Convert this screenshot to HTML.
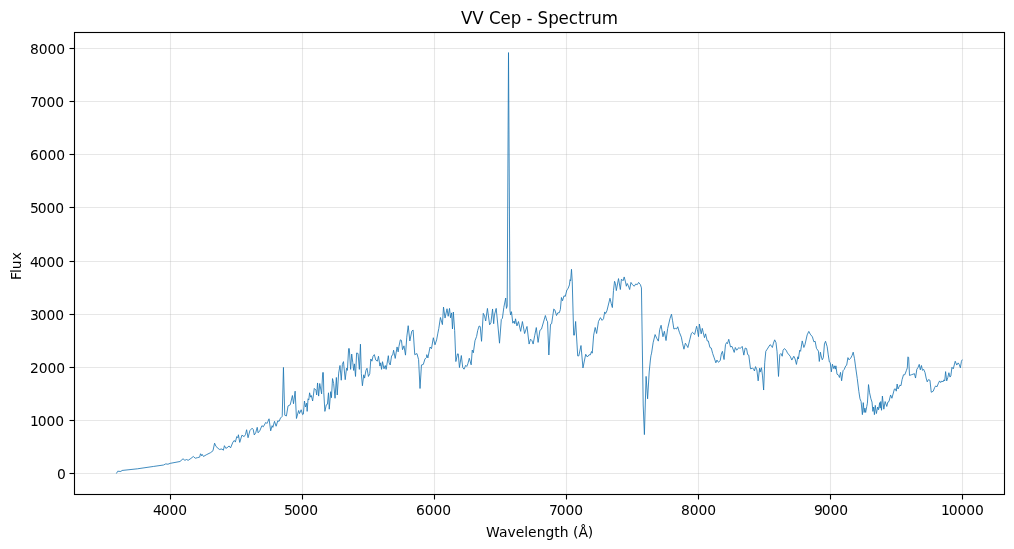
<!DOCTYPE html>
<html lang="en">
<head>
<meta charset="utf-8">
<title>VV Cep - Spectrum</title>
<style>
html,body{margin:0;padding:0;background:#fff;}
body{width:1014px;height:549px;overflow:hidden;}
svg{display:block;}
text{font-family:'DejaVu Sans','Liberation Sans',sans-serif;fill:#000;}
.tick{font-size:13.89px;}
.lab{font-size:13.89px;}
.title{font-size:16.67px;}
</style>
</head>
<body>
<svg width="1014" height="549" viewBox="0 0 1014 549">
<rect x="0" y="0" width="1014" height="549" fill="#ffffff"/>
<g id="grid" stroke="#b0b0b0" stroke-opacity="0.3" stroke-width="1.11" fill="none">
<line x1="170.50" y1="32.50" x2="170.50" y2="494.50"/>
<line x1="302.50" y1="32.50" x2="302.50" y2="494.50"/>
<line x1="434.50" y1="32.50" x2="434.50" y2="494.50"/>
<line x1="566.50" y1="32.50" x2="566.50" y2="494.50"/>
<line x1="698.50" y1="32.50" x2="698.50" y2="494.50"/>
<line x1="830.50" y1="32.50" x2="830.50" y2="494.50"/>
<line x1="962.50" y1="32.50" x2="962.50" y2="494.50"/>
<line x1="74.50" y1="473.50" x2="1004.50" y2="473.50"/>
<line x1="74.50" y1="420.50" x2="1004.50" y2="420.50"/>
<line x1="74.50" y1="367.50" x2="1004.50" y2="367.50"/>
<line x1="74.50" y1="314.50" x2="1004.50" y2="314.50"/>
<line x1="74.50" y1="261.50" x2="1004.50" y2="261.50"/>
<line x1="74.50" y1="207.50" x2="1004.50" y2="207.50"/>
<line x1="74.50" y1="154.50" x2="1004.50" y2="154.50"/>
<line x1="74.50" y1="101.50" x2="1004.50" y2="101.50"/>
<line x1="74.50" y1="48.50" x2="1004.50" y2="48.50"/>
</g>
<g id="ticks" stroke="#000" stroke-width="1.11" fill="none">
<line x1="170.50" y1="494.50" x2="170.50" y2="499.50"/>
<line x1="302.50" y1="494.50" x2="302.50" y2="499.50"/>
<line x1="434.50" y1="494.50" x2="434.50" y2="499.50"/>
<line x1="566.50" y1="494.50" x2="566.50" y2="499.50"/>
<line x1="698.50" y1="494.50" x2="698.50" y2="499.50"/>
<line x1="830.50" y1="494.50" x2="830.50" y2="499.50"/>
<line x1="962.50" y1="494.50" x2="962.50" y2="499.50"/>
<line x1="69.50" y1="473.50" x2="74.50" y2="473.50"/>
<line x1="69.50" y1="420.50" x2="74.50" y2="420.50"/>
<line x1="69.50" y1="367.50" x2="74.50" y2="367.50"/>
<line x1="69.50" y1="314.50" x2="74.50" y2="314.50"/>
<line x1="69.50" y1="261.50" x2="74.50" y2="261.50"/>
<line x1="69.50" y1="207.50" x2="74.50" y2="207.50"/>
<line x1="69.50" y1="154.50" x2="74.50" y2="154.50"/>
<line x1="69.50" y1="101.50" x2="74.50" y2="101.50"/>
<line x1="69.50" y1="48.50" x2="74.50" y2="48.50"/>
</g>
<polyline id="curve" points="116.40,473.50 117.43,471.67 117.65,471.23 120.93,471.45 122.03,470.46 137.33,468.82 153.73,466.42 163.57,465.00 165.76,463.90 167.94,464.23 170.13,463.36 179.97,461.50 183.03,458.77 184.89,460.30 186.53,459.53 188.17,460.30 190.90,458.44 193.31,456.47 195.27,458.22 197.46,457.67 199.65,457.13 200.52,453.74 201.61,455.70 202.16,454.39 203.47,456.47 206.21,454.83 210.58,452.64 212.98,450.78 214.59,443.18 216.01,446.46 219.29,449.42 222.03,448.98 223.34,450.29 224.43,445.70 225.85,448.43 228.04,447.01 229.13,445.92 230.55,447.88 232.96,442.09 234.27,440.45 235.36,442.09 236.78,436.62 237.88,437.72 238.42,434.77 239.74,442.42 241.92,435.20 244.11,436.62 245.53,434.44 246.62,429.74 248.05,437.72 249.90,430.61 252.09,428.21 253.18,429.30 254.28,434.98 255.70,432.80 257.23,427.33 258.10,432.80 259.74,430.83 261.93,425.69 263.35,426.78 265.76,422.41 266.85,423.50 267.94,421.32 269.04,418.80 270.68,430.83 272.10,425.69 272.86,427.33 274.50,421.32 276.14,426.24 277.78,420.77 279.09,421.32 280.51,418.04 282.15,416.40 282.24,415.76 283.45,367.43 284.76,415.21 286.40,415.97 288.04,405.92 290.23,404.82 292.41,395.53 293.50,403.73 295.14,391.16 296.46,418.49 298.64,410.51 299.52,413.57 301.16,409.74 302.58,414.66 303.34,414.12 304.44,401.00 305.53,407.01 306.62,403.18 307.17,411.38 308.05,398.81 308.81,399.90 309.58,392.80 310.67,397.17 311.33,395.53 312.64,401.00 314.28,388.42 315.92,390.06 316.68,394.98 317.56,382.96 318.65,396.08 319.74,383.50 321.60,393.89 322.69,372.57 323.35,372.57 323.79,392.80 324.88,411.38 326.30,404.82 327.40,404.28 328.49,392.80 329.25,409.20 330.68,391.70 331.44,397.72 332.53,378.59 333.63,383.50 335.05,398.26 336.36,377.49 337.24,394.98 338.66,373.12 339.97,365.47 341.28,380.23 342.37,364.37 343.47,361.64 345.22,379.68 346.53,368.20 347.40,370.39 348.64,348.59 349.30,348.59 350.61,369.36 351.70,354.05 352.80,362.80 353.67,370.45 354.44,363.89 355.53,376.46 356.62,352.96 358.05,353.50 359.36,369.36 360.45,344.21 361.33,373.73 362.42,385.76 363.73,374.82 364.60,378.10 365.92,370.45 367.01,368.26 368.43,376.46 369.74,373.73 370.84,358.97 371.93,361.16 373.02,356.24 374.33,354.60 375.76,360.06 377.40,361.16 378.49,356.24 379.91,366.08 380.68,362.80 381.55,369.36 382.53,361.70 383.96,368.81 385.27,365.53 386.14,369.36 388.33,355.69 389.09,362.80 390.19,364.98 391.61,355.69 392.70,355.14 393.58,350.23 395.22,358.42 397.07,346.95 398.17,351.87 398.93,346.40 400.35,339.84 401.45,340.39 402.54,349.68 403.96,345.85 405.49,355.14 406.78,337.17 408.20,325.69 409.84,341.00 411.81,331.16 413.12,330.06 414.76,354.66 416.95,353.57 418.59,359.58 420.03,388.49 421.45,364.98 423.31,364.44 424.95,358.97 426.59,357.33 426.78,354.66 427.88,357.94 430.06,347.01 431.49,348.65 433.34,337.72 434.98,344.82 436.62,339.90 437.72,333.89 438.81,328.42 440.45,317.49 442.42,324.60 443.51,307.11 445.04,318.04 447.01,308.75 448.21,316.29 449.52,308.42 450.51,317.82 451.60,312.90 452.48,328.97 453.35,312.03 454.66,330.61 455.85,361.54 457.49,353.89 458.26,353.89 459.46,367.56 461.32,355.53 462.74,367.56 464.05,369.20 465.69,365.37 466.78,366.46 467.88,363.73 469.30,358.26 471.16,364.82 472.25,350.06 473.34,352.80 474.98,340.77 476.62,336.40 477.72,330.39 479.14,326.01 480.23,326.56 481.54,341.32 483.28,313.34 484.59,316.08 485.68,321.00 487.43,308.42 489.62,324.82 490.93,322.64 492.57,308.97 493.67,323.73 494.43,314.98 496.18,308.42 498.04,327.01 499.50,343.20 501.32,319.36 502.41,318.26 503.83,307.33 505.69,298.04 506.46,308.42 507.20,306.00 508.50,52.60 510.00,310.60 510.61,314.98 511.49,311.70 512.80,323.18 514.11,321.00 514.77,323.73 515.53,318.81 516.95,325.92 518.48,321.54 520.67,331.38 522.42,321.54 524.60,333.57 527.01,326.46 529.10,344.05 530.52,339.13 532.05,340.77 533.15,344.05 534.66,335.76 536.30,327.56 538.10,342.40 539.91,330.29 541.44,329.20 545.38,315.53 546.91,321.00 547.56,321.54 548.85,355.00 550.51,324.28 551.61,323.73 553.79,308.97 554.89,310.06 556.53,315.53 557.84,312.80 559.26,312.80 560.35,309.52 561.45,297.49 562.54,300.77 563.96,295.85 565.27,296.40 566.91,289.84 568.01,288.75 569.43,284.92 570.06,279.68 570.61,280.77 571.49,269.29 572.25,281.87 573.67,335.14 574.43,335.14 575.63,321.48 577.71,355.92 578.80,355.92 580.99,345.53 582.96,367.94 585.69,354.28 587.33,357.01 588.97,354.82 590.39,354.82 591.49,351.54 592.25,353.18 593.67,335.14 595.20,327.49 596.62,333.50 598.48,321.48 600.45,317.65 602.09,320.39 603.51,318.75 604.72,311.93 605.60,313.57 606.91,310.84 609.97,298.26 611.28,303.73 612.37,307.56 613.47,290.61 614.56,281.32 615.43,283.50 616.31,290.61 618.50,278.59 620.35,289.52 621.45,279.13 623.09,280.77 624.18,276.95 625.49,281.87 626.37,286.24 627.24,283.50 628.33,285.69 629.65,289.52 630.96,282.41 632.38,284.60 634.24,286.24 635.66,284.05 637.30,284.60 638.61,282.41 640.36,284.60 641.45,287.88 643.20,405.00 644.40,434.60 646.10,376.40 647.60,398.80 649.20,372.00 650.39,360.02 650.93,355.76 651.59,353.13 653.12,342.75 655.09,334.55 656.73,338.37 658.37,341.11 659.68,329.63 661.10,325.25 662.96,336.73 664.38,331.27 666.02,340.56 667.66,328.53 669.96,318.69 671.49,314.21 672.58,320.77 673.89,328.97 675.53,328.42 676.62,328.97 677.72,326.78 679.36,332.25 681.33,337.17 682.64,343.73 683.95,349.20 685.37,343.18 686.46,344.82 687.88,347.56 689.74,339.90 691.38,333.34 692.48,332.25 693.79,333.89 694.66,334.44 696.63,326.24 697.40,329.52 698.49,336.62 699.36,324.05 701.20,333.83 702.30,328.36 703.17,332.19 704.48,337.65 705.58,333.83 707.22,340.93 708.31,340.93 709.95,347.49 711.26,348.04 712.68,353.50 714.21,357.88 715.85,362.80 716.95,360.06 718.37,362.25 720.23,360.61 721.32,354.05 722.41,351.32 724.05,359.52 725.47,344.76 726.57,342.57 727.44,343.67 728.75,339.29 730.50,346.95 732.03,346.40 734.22,352.41 735.31,347.49 736.73,350.23 738.92,347.49 740.01,348.59 742.20,346.40 743.84,355.14 745.15,348.04 746.57,348.59 747.67,354.60 748.76,355.14 750.51,368.81 752.48,368.26 753.57,368.81 754.44,371.00 755.54,366.62 756.85,369.90 758.16,380.84 759.58,368.26 760.13,372.09 761.44,367.72 762.53,375.92 763.63,390.02 764.72,362.80 765.81,351.32 767.24,349.13 769.97,344.76 771.06,345.31 772.37,347.49 773.47,343.12 774.67,339.84 775.98,342.57 777.07,351.87 778.50,376.46 779.81,354.60 780.90,353.50 782.21,356.24 783.09,350.23 784.40,348.59 786.15,350.23 787.46,352.96 790.19,356.24 791.83,360.06 793.80,356.24 795.11,358.97 796.43,364.44 797.85,356.78 798.39,358.97 799.70,350.23 800.58,351.32 802.22,340.93 803.86,347.49 804.95,344.76 807.16,334.90 808.80,331.40 810.23,334.13 812.41,336.87 813.83,341.78 815.14,341.24 816.46,348.34 818.42,351.08 819.30,361.46 820.39,352.17 821.16,356.00 822.25,359.82 823.34,357.64 824.44,343.97 825.53,341.24 827.17,346.70 828.26,354.90 829.36,362.01 830.23,362.56 831.33,371.85 832.42,364.20 833.73,368.57 834.60,365.84 835.37,369.12 835.92,365.84 837.03,374.21 838.67,375.31 839.43,377.49 840.52,372.35 841.62,380.77 843.04,370.71 844.13,369.62 845.77,365.79 846.65,365.25 847.94,357.64 849.04,359.82 850.68,358.18 852.10,355.45 853.19,352.17 854.50,358.73 855.60,366.93 857.25,378.59 858.89,391.70 859.98,398.81 861.08,401.54 862.39,414.66 863.26,402.64 864.14,412.48 864.90,408.10 865.67,412.48 866.76,406.46 867.42,403.18 868.51,384.60 869.60,392.80 870.92,398.81 872.01,402.09 872.88,411.38 873.65,407.01 874.42,414.66 875.29,405.37 876.38,413.57 877.69,407.01 878.57,409.74 879.66,402.64 880.21,408.10 880.76,401.54 881.52,410.29 882.40,396.08 883.82,409.20 885.13,401.54 886.77,406.46 887.86,402.09 888.96,401.54 890.60,394.98 891.91,398.26 894.42,388.97 895.51,388.97 896.28,391.16 897.15,384.05 898.03,388.97 899.89,385.14 900.98,385.69 902.07,379.68 903.50,374.76 904.81,374.76 906.45,370.39 907.33,367.80 907.88,356.87 908.64,357.41 909.52,375.45 911.37,374.76 913.01,374.21 914.43,373.67 915.52,378.04 916.83,369.29 917.93,367.65 919.24,364.37 920.33,369.84 921.43,365.47 922.52,370.39 923.61,369.29 925.03,372.57 926.13,378.04 927.22,381.87 928.31,379.68 929.95,380.23 931.26,392.25 933.24,391.19 934.66,387.48 935.76,385.84 936.85,386.93 938.49,383.10 939.58,380.92 940.68,382.56 941.77,380.92 942.86,382.01 943.96,379.82 944.72,380.92 945.60,371.62 946.69,380.92 947.78,377.64 948.88,372.72 949.97,377.09 950.84,376.00 951.94,367.25 953.25,368.89 955.22,361.24 956.75,365.06 958.17,362.88 959.26,364.52 960.35,367.80 961.45,361.24 962.32,359.60" fill="none" stroke="#1f77b4" stroke-width="0.85" stroke-linejoin="round" stroke-linecap="butt"/>
<rect id="spines" x="74.50" y="32.50" width="930.00" height="462.00" fill="none" stroke="#000" stroke-width="1.11" stroke-linejoin="miter"/>
<text id="xt4000" class="tick" x="152.97 160.66 169.48 178.31" y="514.55">4000</text>
<text id="xt5000" class="tick" x="283.97 291.66 300.48 309.31" y="514.55">5000</text>
<text id="xt6000" class="tick" x="415.97 424.66 433.48 442.31" y="514.55">6000</text>
<text id="xt7000" class="tick" x="548.97 556.66 565.48 574.31" y="514.55">7000</text>
<text id="xt8000" class="tick" x="680.97 689.66 698.48 707.31" y="514.55">8000</text>
<text id="xt9000" class="tick" x="813.97 821.66 830.48 839.19" y="514.55">9000</text>
<text id="xt10000" class="tick" x="940.93 948.74 957.57 966.15 974.98" y="514.55">10000</text>
<text id="yt0" class="tick" x="57.07" y="478.50">0</text>
<text id="yt1000" class="tick" x="29.96 37.65 46.48 55.18" y="425.50">1000</text>
<text id="yt2000" class="tick" x="29.96 38.65 47.48 56.31" y="372.50">2000</text>
<text id="yt3000" class="tick" x="29.96 37.65 46.48 55.31" y="319.50">3000</text>
<text id="yt4000" class="tick" x="29.96 37.65 46.48 55.31" y="266.50">4000</text>
<text id="yt5000" class="tick" x="29.96 37.65 46.48 55.31" y="212.50">5000</text>
<text id="yt6000" class="tick" x="29.96 38.65 47.48 56.31" y="159.50">6000</text>
<text id="yt7000" class="tick" x="29.96 37.65 46.48 55.31" y="106.50">7000</text>
<text id="yt8000" class="tick" x="29.96 38.65 47.48 56.31" y="53.50">8000</text>
<text id="xlabel" class="lab" x="485.98 499.05 507.55 515.76 524.30 527.90 536.70 545.49 554.29 559.73 568.52 572.93 578.48 587.84" y="536.55">Wavelength (Å)</text>
<text id="ylabel" class="lab" transform="translate(20.60 265.50) rotate(-90)" x="-14.55 -7.58 -3.84 5.20" y="0">Flux</text>
<text id="title" class="title" transform="translate(0 23.500) scale(1 1.0700)" x="460.95 472.21 483.35 488.90 500.40 510.65 521.10 526.51 532.40 537.45 548.27 558.46 568.71 577.99 584.40 591.24 601.68" y="0">VV Cep - Spectrum</text>
</svg>
</body>
</html>
